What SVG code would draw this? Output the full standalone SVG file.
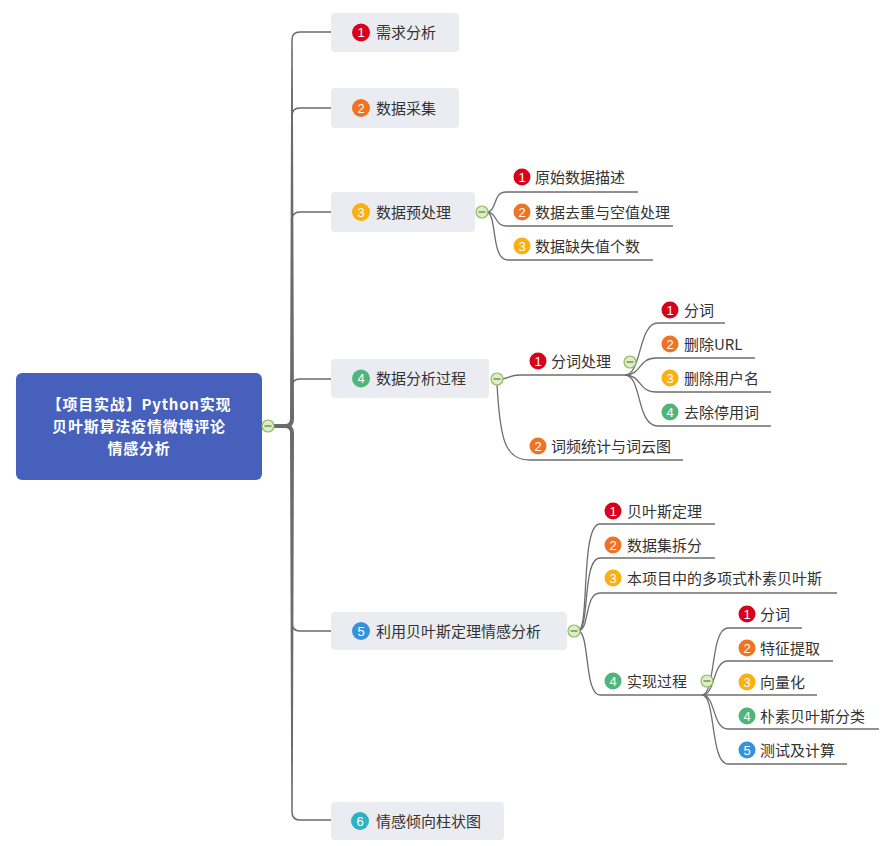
<svg xmlns="http://www.w3.org/2000/svg" width="895" height="846" viewBox="0 0 895 846">
<style>
.t{font-family:"Noto Sans CJK SC","Liberation Sans",sans-serif;font-size:15px;fill:#333}
.rt{font-family:"Noto Sans CJK SC","Liberation Sans",sans-serif;font-size:15px;letter-spacing:0.8px;font-weight:bold;fill:#fff;text-anchor:middle}
.bn{font-family:"Liberation Sans","Noto Sans CJK SC",sans-serif;font-size:13px;fill:#fff;text-anchor:middle}
.box{fill:#ebecf1}
.ln{fill:none;stroke:#6e6e6e;stroke-width:1.3}
.br{fill:none;stroke:#6b6b6b;stroke-width:1.5}
.c1{fill:#d9001b}.c2{fill:#f07323}.c3{fill:#fbb00f}.c4{fill:#4fb57a}.c5{fill:#3592dc}.c6{fill:#2eb3c6}
</style>
<defs>
<g id="col"><circle r="6" fill="#dcedc8" stroke="#8bbd5a" stroke-width="1.2"/><line x1="-3.5" y1="0" x2="3.5" y2="0" stroke="#5d7a3e" stroke-width="1.2"/></g>
</defs>
<rect width="895" height="846" fill="#fff"/>

<g id="connectors">
  <path d="M274,426 H285 Q292,426 292,419" fill="none" stroke="#6b6b6b" stroke-width="4"/>
  <path d="M274,426 H285 Q292,426 292,433" fill="none" stroke="#6b6b6b" stroke-width="4"/>
  <path d="M290,420 L294,420 L292.75,40 L291.25,40 Z" fill="#6b6b6b"/>
  <path d="M290,432 L294,432 L292.75,812 L291.25,812 Z" fill="#6b6b6b"/>
  <path class="br" d="M292,40 Q292,32 300,32 H331"/>
  <path class="br" d="M292,116 Q292,108 300,108 H331"/>
  <path class="br" d="M292,220 Q292,212 300,212 H331"/>
  <path class="br" d="M292,387 Q292,379 300,379 H331"/>
  <path class="br" d="M292,623 Q292,631 300,631 H331"/>
  <path class="br" d="M292,812 Q292,820 300,820 H331"/>
  <path class="ln" d="M486,212 C498,212 492,192 506,192 H638"/>
  <path class="ln" d="M486,212 C498,212 494,226 506,226 H673"/>
  <path class="ln" d="M486,212 C498,212 490,260 508,260 H653"/>
  <path class="ln" d="M500,379 C510,379 508,375 520,375 H625"/>
  <path class="ln" d="M497,384 C500,440 505,460 530,460 H683"/>
  <path class="ln" d="M625,375 C642,375 638,323 658,323 H725"/>
  <path class="ln" d="M625,375 C642,375 638,358 656,358 H755"/>
  <path class="ln" d="M625,375 C642,375 638,392 656,392 H771"/>
  <path class="ln" d="M625,375 C642,375 636,426 658,426 H771"/>
  <path class="ln" d="M578,631 C590,631 580,524 600,524 H715"/>
  <path class="ln" d="M578,631 C590,631 582,558 600,558 H715"/>
  <path class="ln" d="M578,631 C590,631 584,593 600,593 H837"/>
  <path class="ln" d="M578,631 C590,631 584,695 600,695 H702"/>
  <path class="ln" d="M702,695 C716,695 710,628 728,628 H802"/>
  <path class="ln" d="M702,695 C716,695 712,661 728,661 H833"/>
  <path class="ln" d="M702,695 H817"/>
  <path class="ln" d="M702,695 C716,695 712,729 728,729 H879"/>
  <path class="ln" d="M702,695 C716,695 710,764 728,764 H847"/>
</g>

<g id="root">
  <rect x="16" y="373" width="246" height="107" rx="6" fill="#4660bc"/>
  <text class="rt" x="139" y="410">【项目实战】Python实现</text>
  <text class="rt" x="139" y="432">贝叶斯算法疫情微博评论</text>
  <text class="rt" x="139" y="454">情感分析</text>
  <use href="#col" x="268" y="426"/>
</g>

<g id="n1">
  <rect class="box" x="331" y="13" width="128" height="39" rx="4"/>
  <circle class="c1" cx="361" cy="32.5" r="9"/><text class="bn" x="361" y="37">1</text>
  <text class="t" x="376" y="38">需求分析</text>
</g>
<g id="n2">
  <rect class="box" x="331" y="88" width="128" height="40" rx="4"/>
  <circle class="c2" cx="361" cy="108" r="9"/><text class="bn" x="361" y="112.5">2</text>
  <text class="t" x="376" y="113.5">数据采集</text>
</g>
<g id="n3">
  <rect class="box" x="331" y="192" width="144" height="40" rx="4"/>
  <circle class="c3" cx="361" cy="212" r="9"/><text class="bn" x="361" y="216.5">3</text>
  <text class="t" x="376" y="217.5">数据预处理</text>
  <use href="#col" x="482" y="212"/>
</g>
<g id="n3-1"><circle class="c1" cx="522" cy="177" r="8.5"/><text class="bn" x="522" y="181.5">1</text><text class="t" x="535" y="182.5">原始数据描述</text></g>
<g id="n3-2"><circle class="c2" cx="522" cy="212" r="8.5"/><text class="bn" x="522" y="216.5">2</text><text class="t" x="535" y="217.5">数据去重与空值处理</text></g>
<g id="n3-3"><circle class="c3" cx="522" cy="246" r="8.5"/><text class="bn" x="522" y="250.5">3</text><text class="t" x="535" y="251.5">数据缺失值个数</text></g>

<g id="n4">
  <rect class="box" x="331" y="359" width="158" height="39" rx="4"/>
  <circle class="c4" cx="361" cy="378.5" r="9"/><text class="bn" x="361" y="383">4</text>
  <text class="t" x="376" y="384">数据分析过程</text>
  <use href="#col" x="497" y="379"/>
</g>
<g id="n4-1"><circle class="c1" cx="538" cy="361" r="8.5"/><text class="bn" x="538" y="365.5">1</text><text class="t" x="551" y="366.5">分词处理</text><use href="#col" x="630" y="362"/></g>
<g id="n4-1-1"><circle class="c1" cx="670" cy="310" r="8.5"/><text class="bn" x="670" y="314.5">1</text><text class="t" x="684" y="315.5">分词</text></g>
<g id="n4-1-2"><circle class="c2" cx="670" cy="344" r="8.5"/><text class="bn" x="670" y="348.5">2</text><text class="t" x="684" y="349.5">删除URL</text></g>
<g id="n4-1-3"><circle class="c3" cx="670" cy="378" r="8.5"/><text class="bn" x="670" y="382.5">3</text><text class="t" x="684" y="383.5">删除用户名</text></g>
<g id="n4-1-4"><circle class="c4" cx="670" cy="412" r="8.5"/><text class="bn" x="670" y="416.5">4</text><text class="t" x="684" y="417.5">去除停用词</text></g>
<g id="n4-2"><circle class="c2" cx="538" cy="446" r="8.5"/><text class="bn" x="538" y="450.5">2</text><text class="t" x="551" y="451.5">词频统计与词云图</text></g>

<g id="n5">
  <rect class="box" x="331" y="612" width="236" height="38" rx="4"/>
  <circle class="c5" cx="361" cy="631" r="9"/><text class="bn" x="361" y="635.5">5</text>
  <text class="t" x="376" y="636.5">利用贝叶斯定理情感分析</text>
  <use href="#col" x="574" y="631"/>
</g>
<g id="n5-1"><circle class="c1" cx="613" cy="511" r="8.5"/><text class="bn" x="613" y="515.5">1</text><text class="t" x="627" y="516.5">贝叶斯定理</text></g>
<g id="n5-2"><circle class="c2" cx="613" cy="545" r="8.5"/><text class="bn" x="613" y="549.5">2</text><text class="t" x="627" y="550.5">数据集拆分</text></g>
<g id="n5-3"><circle class="c3" cx="613" cy="578" r="8.5"/><text class="bn" x="613" y="582.5">3</text><text class="t" x="627" y="583.5">本项目中的多项式朴素贝叶斯</text></g>
<g id="n5-4"><circle class="c4" cx="613" cy="681" r="8.5"/><text class="bn" x="613" y="685.5">4</text><text class="t" x="627" y="686.5">实现过程</text><use href="#col" x="707" y="681"/></g>
<g id="n5-4-1"><circle class="c1" cx="747" cy="614" r="8.5"/><text class="bn" x="747" y="618.5">1</text><text class="t" x="760" y="619.5">分词</text></g>
<g id="n5-4-2"><circle class="c2" cx="747" cy="648" r="8.5"/><text class="bn" x="747" y="652.5">2</text><text class="t" x="760" y="653.5">特征提取</text></g>
<g id="n5-4-3"><circle class="c3" cx="747" cy="682" r="8.5"/><text class="bn" x="747" y="686.5">3</text><text class="t" x="760" y="687.5">向量化</text></g>
<g id="n5-4-4"><circle class="c4" cx="747" cy="716" r="8.5"/><text class="bn" x="747" y="720.5">4</text><text class="t" x="760" y="721.5">朴素贝叶斯分类</text></g>
<g id="n5-4-5"><circle class="c5" cx="747" cy="750" r="8.5"/><text class="bn" x="747" y="754.5">5</text><text class="t" x="760" y="755.5">测试及计算</text></g>

<g id="n6">
  <rect class="box" x="331" y="802" width="173" height="38" rx="4"/>
  <circle class="c6" cx="360" cy="821" r="9"/><text class="bn" x="360" y="825.5">6</text>
  <text class="t" x="376" y="826.5">情感倾向柱状图</text>
</g>
</svg>
